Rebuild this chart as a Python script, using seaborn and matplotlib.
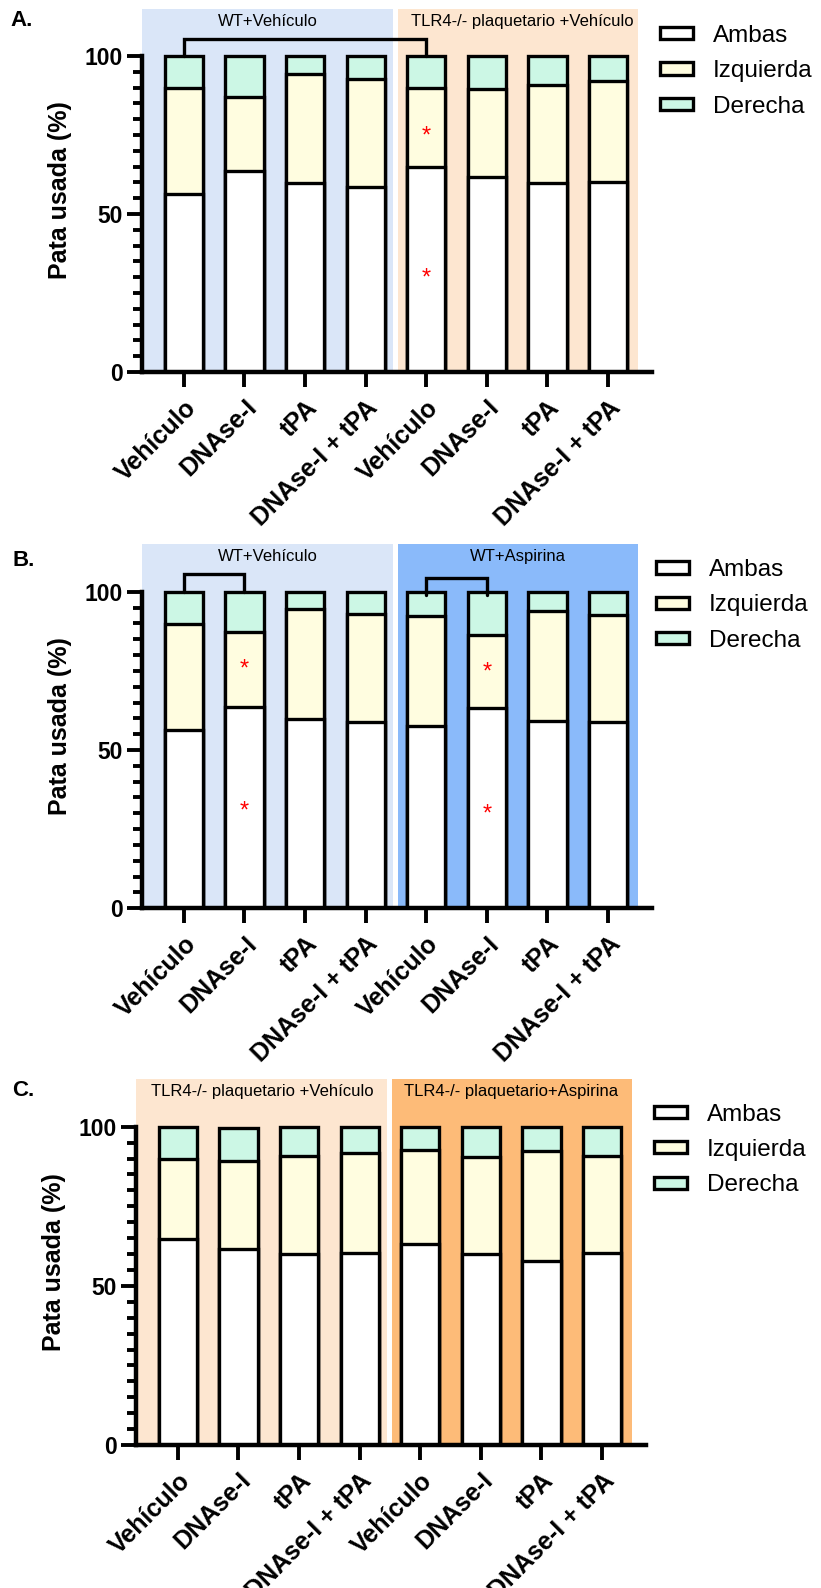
import numpy as np
import pandas as pd
import matplotlib
matplotlib.use("Agg")
import matplotlib.pyplot as plt
import seaborn as sns
from matplotlib.ticker import FixedLocator

# ---------------- data ----------------
tratamientos = ["Vehículo", "DNAse-I", "tPA", "DNAse-I + tPA",
                "Vehículo", "DNAse-I", "tPA", "DNAse-I + tPA"]
series = ["Ambas", "Izquierda", "Derecha"]

ambas_A = [56.4, 63.7, 59.7, 58.7, 65.0, 61.7, 59.9, 60.1]
izquierda_A = [33.4, 23.4, 34.6, 34.0, 25.0, 27.8, 31.0, 32.1]
derecha_A = [10.2, 12.9, 5.7, 7.3, 10.0, 10.5, 9.1, 7.8]

ambas_B = [56.3, 63.7, 59.8, 58.7, 57.6, 63.4, 59.1, 58.7]
izquierda_B = [33.6, 23.5, 34.7, 34.3, 34.8, 22.9, 34.7, 33.8]
derecha_B = [10.1, 12.8, 5.5, 7.0, 7.6, 13.7, 6.2, 7.5]

ambas_C = [64.8, 61.6, 60.0, 60.2, 63.2, 60.0, 57.9, 60.2]
izquierda_C = [25.1, 27.6, 30.7, 31.6, 29.5, 30.4, 34.4, 30.6]
derecha_C = [10.1, 10.3, 9.3, 8.2, 7.3, 9.6, 7.7, 9.2]

grupos_A = ["WT+Vehículo", "TLR4-/- plaquetario +Vehículo"]
grupos_B = ["WT+Vehículo", "WT+Aspirina"]
grupos_C = ["TLR4-/- plaquetario +Vehículo", "TLR4-/- plaquetario+Aspirina"]

# ---------------- style ----------------
sns.set_style("ticks")
plt.rcParams["font.family"] = ["Liberation Sans", "DejaVu Sans"]
plt.rcParams["axes.linewidth"] = 3.2
for k in ("text.color", "axes.labelcolor", "xtick.color", "ytick.color",
          "axes.edgecolor"):
    plt.rcParams[k] = "black"

C_AMB = "#ffffff"
C_IZQ = "#fffde0"
C_DER = "#ccf7e5"
BG_LBLUE = "#dae6f8"
BG_BLUE = "#8abafa"
BG_LOR = "#fde6d0"
BG_OR = "#fdbb78"

W, H = 821, 1588
fig = plt.figure(figsize=(W / 100, H / 100), dpi=100)

XL = (-0.69, 7.72)
YTOP = 115


def panel(rect, ambas, izq, der, grupos, bgs, label_x, brackets, stars,
          letter, letter_xy, leg_xy):
    ax = fig.add_axes(rect)
    pos = list(range(len(ambas)))
    amb = np.array(ambas)
    cum_izq = amb + np.array(izq)
    cum_der = cum_izq + np.array(der)
    df = pd.DataFrame({"pos": pos, "amb": amb, "izq": cum_izq, "der": cum_der})
    ax.axvspan(XL[0], 3.45, color=bgs[0], zorder=0, lw=0)
    ax.axvspan(3.53, 7.5, color=bgs[1], zorder=0, lw=0)
    for col, c in (("der", C_DER), ("izq", C_IZQ), ("amb", C_AMB)):
        sns.barplot(data=df, x="pos", y=col, color=c, saturation=1, width=0.63,
                    edgecolor="black", linewidth=2.4, errorbar=None, ax=ax,
                    zorder=2)
    ax.set_xlim(*XL)
    ax.set_ylim(0, YTOP)
    ax.spines[["top", "right"]].set_visible(False)
    ax.spines["left"].set_bounds(0, 100)
    ax.yaxis.set_major_locator(FixedLocator([0, 50, 100]))
    ax.yaxis.set_minor_locator(FixedLocator(np.arange(0, 101, 5)))
    ax.tick_params(axis="y", which="major", length=10.8, width=2.8, pad=3,
                   labelsize=16.5)
    ax.tick_params(axis="y", which="minor", length=6.5, width=2.8)
    ax.tick_params(axis="x", which="major", length=10.8, width=2.8, pad=6)
    for t in ax.get_yticklabels():
        t.set_fontweight("bold")
    ax.set_xticks(pos)
    ax.set_xticklabels(tratamientos, rotation=45, ha="right", va="top",
                       rotation_mode="anchor", fontsize=18, fontweight="bold")
    ax.set_xlabel("")
    ax.set_ylabel("Pata usada (%)", fontsize=18, fontweight="bold", labelpad=9)
    for xc, g in zip(label_x, grupos):
        ax.text(xc, 111, g, ha="center", va="center", fontsize=12, zorder=3)
    for x0, x1, ytop, ybot in brackets:
        ax.plot([x0, x0, x1, x1], [ybot, ytop, ytop, ybot], color="black",
                lw=2.4, clip_on=False, zorder=3, solid_joinstyle="miter")
    for xs, ys in stars:
        ax.text(xs, ys, "*", color="red", ha="center", va="center",
                fontsize=17, zorder=4)
    fig.text(letter_xy[0] / W, 1 - letter_xy[1] / H, letter, fontsize=16,
             fontweight="bold", ha="left", va="center")
    handles = [ax.containers[2][0], ax.containers[1][0], ax.containers[0][0]]
    ax.legend(handles, series, loc="center left",
              bbox_to_anchor=(leg_xy[0] / W, 1 - leg_xy[1] / H),
              bbox_transform=fig.transFigure, frameon=False, fontsize=17.5,
              borderpad=0, borderaxespad=0, handlelength=1.36,
              handleheight=0.4, handletextpad=0.8, labelspacing=0.55)
    return ax


def rect_for(left_px, zero_px, ppu):
    h = YTOP * ppu
    w = (XL[1] - XL[0]) * 60.6
    return [left_px / W, (H - zero_px) / H, w / W, h / H]


panel(rect_for(142, 372, 3.16), ambas_A, izquierda_A, derecha_A, grupos_A,
      (BG_LBLUE, BG_LOR), (1.38, 5.58),
      [(0, 4, 105.3, 100)],
      [(4, 74.5), (4, 29.7)],
      "A.", (10, 21), (660, 71.3))

panel(rect_for(142, 908.3, 3.166), ambas_B, izquierda_B, derecha_B, grupos_B,
      (BG_LBLUE, BG_BLUE), (1.38, 5.52),
      [(0, 1, 105.6, 100), (4, 5, 104.4, 99)],
      [(1, 75.4), (1, 30.7), (5, 74.4), (5, 29.6)],
      "B.", (12, 561), (656, 605.5))

panel(rect_for(136, 1445, 3.183), ambas_C, izquierda_C, derecha_C, grupos_C,
      (BG_LOR, BG_OR), (1.4, 5.5),
      [], [],
      "C.", (12, 1090), (654, 1150))

fig.savefig("out.png", dpi=100)
